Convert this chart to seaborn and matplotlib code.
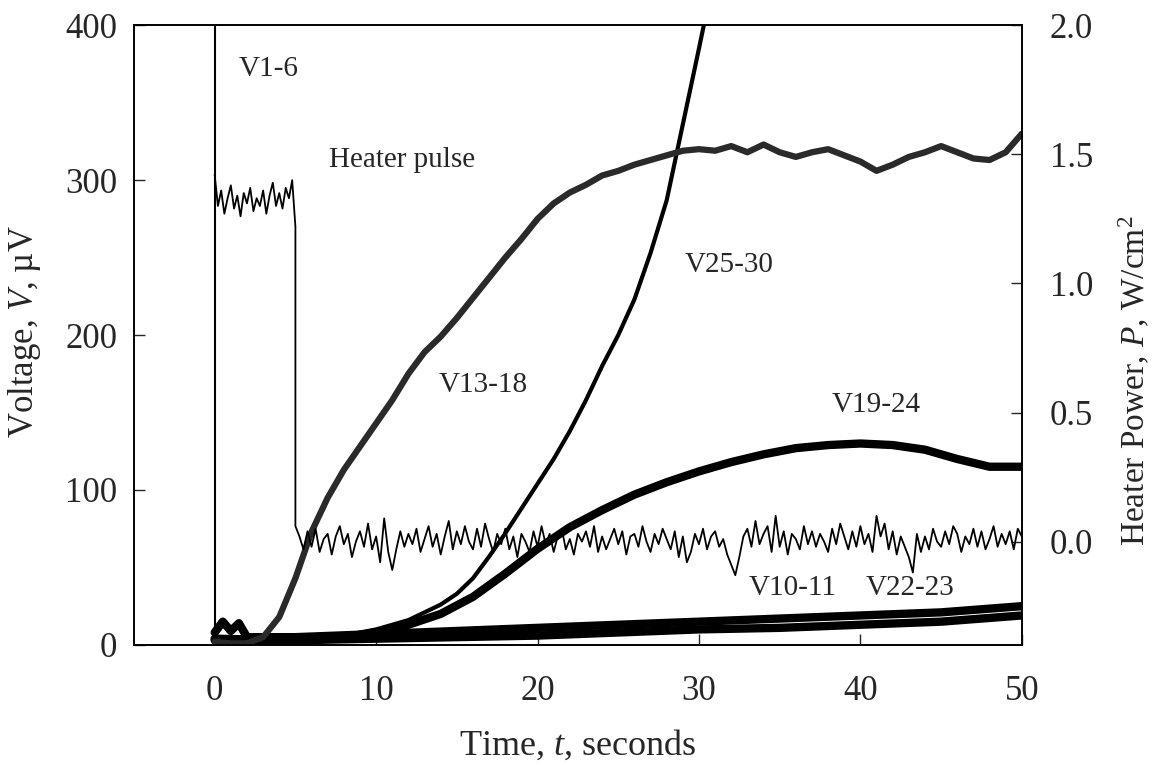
import numpy as np
import pandas as pd
import seaborn as sns
import matplotlib.pyplot as plt

# voltage traces, microvolts (left axis)
t_v1_6 = [0.0, 0.0, 50.0]
v_v1_6 = [3, 2000, 2000]

t_v13_18 = list(range(0, 51))
v_v13_18 = [2, 1, 1, 5, 18, 43, 73, 95, 113, 128,
            143, 158, 175, 189, 199, 211, 224, 237, 250, 262,
            275, 285, 292, 297, 303, 306, 310, 313, 316, 319,
            320, 319, 322, 318, 323, 318, 315, 318, 320, 316,
            312, 306, 310, 315, 318, 322, 318, 314, 313, 318, 330]

t_v19_24 = list(range(0, 51, 2))
v_v19_24 = [3, 2, 2, 3, 5, 8, 13, 20, 31, 46, 62, 76, 87, 97, 105,
            112, 118, 123, 127, 129, 130, 129, 126, 120, 115, 115]

t_v25_30 = [0, 2, 4, 6, 8, 10, 12, 14, 15, 16, 17, 18, 19, 20, 21, 22,
            23, 24, 25, 26, 27, 28, 29, 30, 30.5]
v_v25_30 = [3, 3, 3, 4, 6, 10, 16, 26, 33, 43, 57, 72, 88, 104, 120, 138,
            158, 180, 200, 223, 253, 287, 336, 385, 410]

t_v22_23 = [0, 0.5, 1, 1.5, 2, 5, 10, 15, 20, 25, 30, 35, 40, 45, 50]
v_v22_23 = [8, 15, 9, 14, 5, 5, 7, 9, 11, 13, 15, 17, 19, 21, 25]

t_v10_11 = [0, 5, 10, 15, 20, 25, 30, 35, 40, 45, 50]
v_v10_11 = [4, 3, 4, 5, 6, 8, 10, 11, 13, 15, 19]

# heater power, W/cm2 (right axis)
t_pulse = np.round(np.arange(0, 5.01, 0.2), 2)
p_pulse = [1.42, 1.30, 1.36, 1.27, 1.33, 1.38, 1.29, 1.34, 1.26, 1.35,
           1.31, 1.37, 1.28, 1.33, 1.30, 1.36, 1.27, 1.34, 1.39, 1.30,
           1.35, 1.29, 1.37, 1.33, 1.40, 1.22]
t_after = np.round(np.arange(5, 50.01, 0.25), 2)
p_after = np.array([
    6, 2, -3, 4, -2, 5, -4, 1, 3, -5, 2, 6, -1, 3, -6, 0, 4, -2, 7, -3,
    2, -8, 9, -4, -11, -3, 4, -2, 3, -1, 5, -4, 1, 6, -2, 3, -5, 2, 8, -3,
    4, -1, 6, 0, -3, 5, -2, 7, 1, -4, 3, -1, 5, -3, 2, -6, 3, 0, -4, 4,
    -2, 6, -1, 3, -4, 2, 5, -3, 1, -5, 3, 0, 4, -2, 6, -4, 2, -3, 1, 5,
    -1, 4, -5, 2, 3, -2, 6, 0, -4, 3, -1, 5, 1, -3, 4, -6, 2, -8, -4, 3,
    -1, 5, -3, 2, 4, -2, 1, -5, -9, -13, -6, 2, 5, -2, 8, -1, 3, 6, -4, 10,
    -2, 4, -5, 3, 1, -3, 6, -1, 4, -2, 3, 0, -4, 5, -1, 7, 2, -3, 4, -2,
    6, -1, 3, -4, 10, 2, 7, -3, 4, -5, 2, -2, -6, -12, 3, -4, 2, -3, 5, 0,
    -2, 4, -1, 6, 3, -4, 2, -1, 5, -2, 4, -3, 1, 6, -2, 3, -1, 4, -3, 5, 2
]) / 100

heater = pd.DataFrame({'t': np.concatenate([t_pulse, t_after]),
                       'P': np.concatenate([p_pulse, p_after])})

sns.set_style("ticks")
plt.rcParams['font.family'] = ['Liberation Serif', 'DejaVu Serif']
plt.rcParams['mathtext.fontset'] = 'custom'
plt.rcParams['mathtext.rm'] = 'Liberation Serif'
plt.rcParams['mathtext.it'] = 'Liberation Serif:italic'

fig, ax = plt.subplots(figsize=(11.52, 7.65), dpi=100)
fig.subplots_adjust(left=0.1163, right=0.887, top=0.967, bottom=0.157)

sns.lineplot(x=t_v1_6, y=v_v1_6, ax=ax, color='k', lw=1.5, estimator=None, sort=False)
sns.lineplot(x=t_v10_11, y=v_v10_11, ax=ax, color='k', lw=6)
sns.lineplot(x=t_v22_23, y=v_v22_23, ax=ax, color='k', lw=6)
sns.lineplot(x=t_v19_24, y=v_v19_24, ax=ax, color='k', lw=6)
sns.lineplot(x=t_v25_30, y=v_v25_30, ax=ax, color='k', lw=3)
sns.lineplot(x=t_v13_18, y=v_v13_18, ax=ax, color='#2a2a2a', lw=4.5)

ax.set_xlim(-5, 50)
ax.set_ylim(0, 400)
ax.set_xticks([0, 10, 20, 30, 40, 50])
ax.set_yticks([0, 100, 200, 300, 400])
ax.set_xlabel('Time, $t$, seconds', fontsize=26, labelpad=14)
ax.set_ylabel('Voltage, $V$, \u00b5V', fontsize=25)
ax.yaxis.set_label_coords(-0.102, 0.506)
ax.tick_params(axis='x', direction='in', length=8, width=1, labelsize=25, pad=22)
ax.tick_params(axis='y', direction='in', length=8, width=1, labelsize=25, pad=12)

ax2 = ax.twinx()
sns.lineplot(data=heater, x='t', y='P', ax=ax2, color='k', lw=1.3, estimator=None, sort=False)
ax2.set_ylim(-0.4, 2.0)
ax2.set_yticks([0.0, 0.5, 1.0, 1.5, 2.0])
ax2.set_yticklabels(['0.0', '0.5', '1.0', '1.5', '2.0'])
ax2.set_ylabel('Heater Power, $P$, W/cm$^2$', fontsize=24)
ax2.yaxis.set_label_coords(1.107, 0.427)
ax2.tick_params(axis='y', direction='in', length=8, width=1, labelsize=25, pad=20)

for a in (ax, ax2):
    for s in a.spines.values():
        s.set_linewidth(1.2)
        s.set_color('k')

ax.text(1.5, 372, 'V1-6', fontsize=21, va='center')
ax.text(7.1, 313, 'Heater pulse', fontsize=21, va='center')
ax.text(13.9, 168, 'V13-18', fontsize=21, va='center')
ax.text(29.1, 245, 'V25-30', fontsize=21, va='center')
ax.text(38.2, 155, 'V19-24', fontsize=21, va='center')
ax.text(33.1, 37, 'V10-11', fontsize=21, va='center')
ax.text(40.3, 37, 'V22-23', fontsize=21, va='center')

fig.savefig('out.png', dpi=100)
